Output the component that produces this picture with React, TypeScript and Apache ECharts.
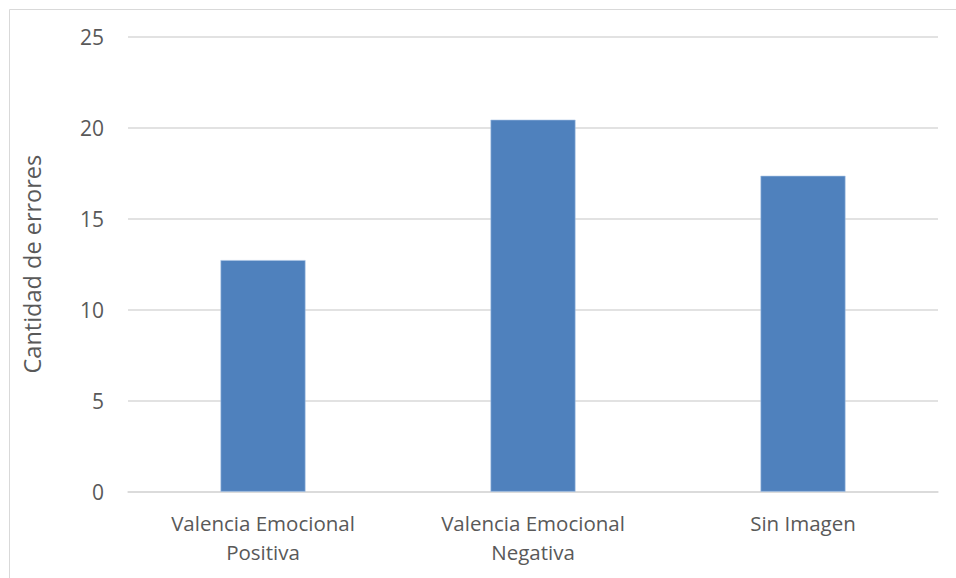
import React, { useEffect, useRef } from "react";
import * as echarts from "echarts";

const categories = ["Valencia Emocional\nPositiva", "Valencia Emocional\nNegativa", "Sin Imagen"];
const errorCounts = [12.72, 20.43, 17.35];
const yAxisTitle = "Cantidad de errores";
const yMin = 0;
const yMax = 25;
const yStep = 5;

export default function App() {
  const ref = useRef<HTMLDivElement>(null);

  useEffect(() => {
    if (!ref.current) return;
    const chart = echarts.init(ref.current, null, { renderer: "svg" });
    const textColor = "#595959";
    const lineColor = "#d9d9d9";
    const font = "'Open Sans', 'Liberation Sans', sans-serif";
    chart.setOption({
      animation: false,
      backgroundColor: "#ffffff",
      graphic: [
        {
          type: "rect",
          left: 7,
          top: 7,
          shape: { x: 0, y: 0, width: 1000, height: 620 },
          style: { fill: "none", stroke: lineColor, lineWidth: 1 },
          silent: true,
          z: -1,
        },
      ],
      grid: { left: 128, right: 18, top: 36.5, bottom: 86.3, containLabel: false },
      xAxis: {
        type: "category",
        data: categories,
        axisTick: { show: false },
        axisLine: { show: true, lineStyle: { color: lineColor, width: 1.5 } },
        axisLabel: {
          color: textColor,
          fontFamily: font,
          fontSize: 20.5,
          lineHeight: 29,
          margin: 17,
          interval: 0,
        },
      },
      yAxis: {
        type: "value",
        min: yMin,
        max: yMax,
        interval: yStep,
        name: yAxisTitle,
        nameLocation: "middle",
        nameGap: 84,
        nameTextStyle: { color: textColor, fontFamily: font, fontSize: 23.5 },
        axisLine: { show: false },
        axisTick: { show: false },
        axisLabel: { color: textColor, fontFamily: font, fontSize: 21, margin: 24 },
        splitLine: { lineStyle: { color: lineColor, width: 1.5 } },
      },
      series: [
        {
          type: "bar",
          data: errorCounts,
          barWidth: 85,
          itemStyle: { color: "#4f81bd", borderColor: "#a9c4e6", borderWidth: 0.6 },
        },
      ],
    });
    return () => chart.dispose();
  }, []);

  return (
    <div
      ref={ref}
      style={{ position: "fixed", left: 0, top: 0, width: 956, height: 578 }}
    />
  );
}
